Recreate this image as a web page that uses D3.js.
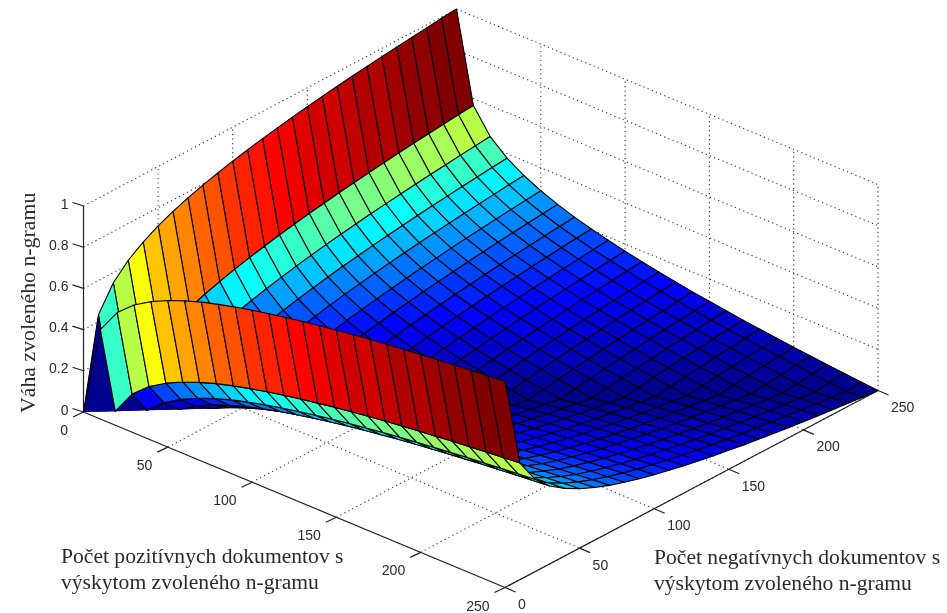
<!DOCTYPE html>
<html>
<head>
<meta charset="utf-8">
<script src="https://cdn.jsdelivr.net/npm/d3@7"></script>
<style>
html,body{margin:0;padding:0;background:#fff;overflow:hidden}
svg{display:block;filter:blur(0.45px)}
</style>
</head>
<body>
<script>
// document counts on the two floor axes
const posCounts = [0,10,20,30,40,50,60,70,80,90,100,110,120,130,140,150,160,170,180,190,200,210,220,230,240,250];
const negCounts = [0,10,20,30,40,50,60,70,80,90,100,110,120,130,140,150,160,170,180,190,200,210,220,230,240,250];
const posTicks = [0,50,100,150,200,250];
const negTicks = [0,50,100,150,200,250];
const zTicks = [0,0.2,0.4,0.6,0.8,1];
const zTickLabels = ["0","0.2","0.4","0.6","0.8","1"];
// weight per row of negative count, column of positive count
const weights = [
[0,.434,.551,.622,.672,.712,.744,.772,.795,.816,.835,.852,.868,.882,.896,.908,.920,.931,.941,.951,.960,.969,.977,.985,.993,1],
[.434,0,.117,.188,.238,.278,.310,.338,.361,.382,.401,.418,.434,.448,.462,.474,.486,.497,.507,.517,.526,.535,.543,.551,.559,.566],
[.551,.117,0,.071,.121,.161,.193,.221,.244,.265,.284,.301,.317,.331,.345,.357,.369,.380,.390,.400,.409,.418,.426,.434,.442,.449],
[.622,.188,.071,0,.050,.090,.122,.150,.173,.194,.213,.230,.246,.260,.274,.286,.298,.309,.319,.329,.338,.347,.355,.363,.371,.378],
[.672,.238,.121,.050,0,.040,.072,.100,.123,.144,.163,.180,.196,.210,.224,.236,.248,.259,.269,.279,.288,.297,.305,.313,.321,.328],
[.712,.278,.161,.090,.040,0,.032,.060,.083,.104,.123,.140,.156,.170,.184,.196,.208,.219,.229,.239,.248,.257,.265,.273,.281,.288],
[.744,.310,.193,.122,.072,.032,0,.028,.051,.072,.091,.108,.124,.138,.152,.164,.176,.187,.197,.207,.216,.225,.233,.241,.249,.256],
[.772,.338,.221,.150,.100,.060,.028,0,.023,.044,.063,.080,.096,.110,.124,.136,.148,.159,.169,.179,.188,.197,.205,.213,.221,.228],
[.795,.361,.244,.173,.123,.083,.051,.023,0,.021,.040,.057,.073,.087,.101,.113,.125,.136,.146,.156,.165,.174,.182,.190,.198,.205],
[.816,.382,.265,.194,.144,.104,.072,.044,.021,0,.019,.036,.052,.066,.080,.092,.104,.115,.125,.135,.144,.153,.161,.169,.177,.184],
[.835,.401,.284,.213,.163,.123,.091,.063,.040,.019,0,.017,.033,.047,.061,.073,.085,.096,.106,.116,.125,.134,.142,.150,.158,.165],
[.852,.418,.301,.230,.180,.140,.108,.080,.057,.036,.017,0,.016,.030,.044,.056,.068,.079,.089,.099,.108,.117,.125,.133,.141,.148],
[.868,.434,.317,.246,.196,.156,.124,.096,.073,.052,.033,.016,0,.014,.028,.040,.052,.063,.073,.083,.092,.101,.109,.117,.125,.132],
[.882,.448,.331,.260,.210,.170,.138,.110,.087,.066,.047,.030,.014,0,.014,.026,.038,.049,.059,.069,.078,.087,.095,.103,.111,.118],
[.896,.462,.345,.274,.224,.184,.152,.124,.101,.080,.061,.044,.028,.014,0,.012,.024,.035,.045,.055,.064,.073,.081,.089,.097,.104],
[.908,.474,.357,.286,.236,.196,.164,.136,.113,.092,.073,.056,.040,.026,.012,0,.012,.023,.033,.043,.052,.061,.069,.077,.085,.092],
[.920,.486,.369,.298,.248,.208,.176,.148,.125,.104,.085,.068,.052,.038,.024,.012,0,.011,.021,.031,.040,.049,.057,.065,.073,.080],
[.931,.497,.380,.309,.259,.219,.187,.159,.136,.115,.096,.079,.063,.049,.035,.023,.011,0,.010,.020,.029,.038,.046,.054,.062,.069],
[.941,.507,.390,.319,.269,.229,.197,.169,.146,.125,.106,.089,.073,.059,.045,.033,.021,.010,0,.010,.019,.028,.036,.044,.052,.059],
[.951,.517,.400,.329,.279,.239,.207,.179,.156,.135,.116,.099,.083,.069,.055,.043,.031,.020,.010,0,.009,.018,.026,.034,.042,.049],
[.960,.526,.409,.338,.288,.248,.216,.188,.165,.144,.125,.108,.092,.078,.064,.052,.040,.029,.019,.009,0,.009,.017,.025,.033,.040],
[.969,.535,.418,.347,.297,.257,.225,.197,.174,.153,.134,.117,.101,.087,.073,.061,.049,.038,.028,.018,.009,0,.008,.016,.024,.031],
[.977,.543,.426,.355,.305,.265,.233,.205,.182,.161,.142,.125,.109,.095,.081,.069,.057,.046,.036,.026,.017,.008,0,.008,.016,.023],
[.985,.551,.434,.363,.313,.273,.241,.213,.190,.169,.150,.133,.117,.103,.089,.077,.065,.054,.044,.034,.025,.016,.008,0,.008,.015],
[.993,.559,.442,.371,.321,.281,.249,.221,.198,.177,.158,.141,.125,.111,.097,.085,.073,.062,.052,.042,.033,.024,.016,.008,0,.007],
[1,.566,.449,.378,.328,.288,.256,.228,.205,.184,.165,.148,.132,.118,.104,.092,.080,.069,.059,.049,.040,.031,.023,.015,.007,0]
];

const width = 947, height = 613;
const svg = d3.select("body").append("svg").attr("width", width).attr("height", height);
svg.append("rect").attr("width", width).attr("height", height).attr("fill", "#fff");

// oblique projection, each data axis gets a screen offset in x and y
const pX = d3.scaleLinear().domain([0,250]).range([0,421.5]);
const pY = d3.scaleLinear().domain([0,250]).range([0,175.5]);
const nX = d3.scaleLinear().domain([0,250]).range([0,373]);
const nY = d3.scaleLinear().domain([0,250]).range([0,-197]);
const zY = d3.scaleLinear().domain([0,1]).range([0,-206]);
const project = (p, n, z) => [83.5 + pX(p) + nX(n), 412 + pY(p) + nY(n) + zY(z)];

const jet = d3.scaleLinear()
    .domain([0,0.125,0.375,0.625,0.875,1])
    .range(["#00008f","#0000ff","#00ffff","#ffff00","#ff0000","#800000"]);
const faceColor = z => jet(Math.min(63, Math.floor(z * 64)) / 63);

const line3 = (a, b) => {
    const s = project(a[0], a[1], a[2]), e = project(b[0], b[1], b[2]);
    return "M" + s[0] + "," + s[1] + "L" + e[0] + "," + e[1];
};

// dotted grid on the floor and the two back walls
const grid = [];
posTicks.forEach(p => {
    if (p > 0) grid.push(line3([p,0,0],[p,250,0]));
    grid.push(line3([p,250,0],[p,250,1]));
});
negTicks.forEach(n => {
    if (n > 0) grid.push(line3([0,n,0],[250,n,0]));
    if (n > 0) grid.push(line3([0,n,0],[0,n,1]));
});
zTicks.forEach(z => {
    if (z > 0) {
        grid.push(line3([0,0,z],[0,250,z]));
        grid.push(line3([0,250,z],[250,250,z]));
    }
});
svg.append("g").selectAll("path").data(grid).enter().append("path")
    .attr("d", d => d)
    .attr("fill", "none")
    .attr("stroke", "#333")
    .attr("stroke-width", 1.1)
    .attr("stroke-dasharray", "1.2,3.3");

// axis lines and ticks
const axisG = svg.append("g").attr("fill", "none").attr("stroke", "#222").attr("stroke-width", 1.2);
axisG.append("path").attr("d", line3([0,0,0],[250,0,0]));
axisG.append("path").attr("d", line3([250,0,0],[250,250,0]));
axisG.append("path").attr("d", line3([0,0,0],[0,0,1]));
posTicks.forEach(p => {
    const t = project(p,0,0);
    axisG.append("path").attr("d", `M${t[0]},${t[1]}l-10.5,5`);
});
negTicks.forEach(n => {
    const t = project(250,n,0);
    axisG.append("path").attr("d", `M${t[0]},${t[1]}l10.5,4.5`);
});
zTicks.forEach(z => {
    const t = project(0,0,z);
    axisG.append("path").attr("d", `M${t[0]},${t[1]}l-11,-3.5`);
});

// surface, far column first so the nearer faces paint over it
const faces = [];
for (let i = 0; i < posCounts.length - 1; i++) {
    for (let j = negCounts.length - 2; j >= 0; j--) {
        faces.push({i: i, j: j});
    }
}
const corner = (i, j) => project(posCounts[i], negCounts[j], weights[j][i]);
const faceG = svg.append("g");
faces.forEach(d => {
    const a = corner(d.i,d.j), b = corner(d.i+1,d.j), c = corner(d.i+1,d.j+1), e = corner(d.i,d.j+1);
    const col = faceColor(weights[d.j][d.i]);
    // quad first, then both triangles because the cells on the diagonal fold over themselves
    [[a,b,c,e],[a,b,c],[a,c,e]].forEach(shape => {
        faceG.append("path")
            .attr("d", "M" + shape.join("L") + "Z")
            .attr("fill", col);
    });
    faceG.append("path")
        .attr("d", "M" + [a,b,c,e].join("L") + "Z")
        .attr("fill", "none")
        .attr("stroke", "#000")
        .attr("stroke-width", 1.1)
        .attr("stroke-linejoin", "round");
});

// tick labels
const tickG = svg.append("g")
    .attr("font-family", "'Liberation Sans', Arial, sans-serif")
    .attr("font-size", 14)
    .attr("fill", "#2b2b2b");
posTicks.forEach(p => {
    const t = project(p,0,0);
    tickG.append("text").attr("x", t[0] - 15.5).attr("y", t[1] + 23).attr("text-anchor", "end").text(p);
});
negTicks.forEach(n => {
    const t = project(250,n,0);
    tickG.append("text").attr("x", t[0] + 13).attr("y", t[1] + 21.5).text(n);
});
zTicks.forEach((z, k) => {
    const t = project(0,0,z);
    tickG.append("text").attr("x", t[0] - 15).attr("y", t[1] + 2.5).attr("text-anchor", "end").text(zTickLabels[k]);
});

// axis titles
const titleG = svg.append("g")
    .attr("font-family", "'Liberation Serif', 'Times New Roman', serif")
    .attr("font-size", 21.6)
    .attr("fill", "#2b2b2b");
titleG.append("text").attr("transform", "translate(35,413) rotate(-90)").attr("font-size", 21.8).text("Váha zvoleného n-gramu");
titleG.append("text").attr("x", 61).attr("y", 563).text("Počet pozitívnych dokumentov s");
titleG.append("text").attr("x", 61).attr("y", 589).text("výskytom zvoleného n-gramu");
titleG.append("text").attr("x", 654).attr("y", 564).text("Počet negatívnych dokumentov s");
titleG.append("text").attr("x", 654).attr("y", 590).text("výskytom zvoleného n-gramu");
</script>
</body>
</html>
